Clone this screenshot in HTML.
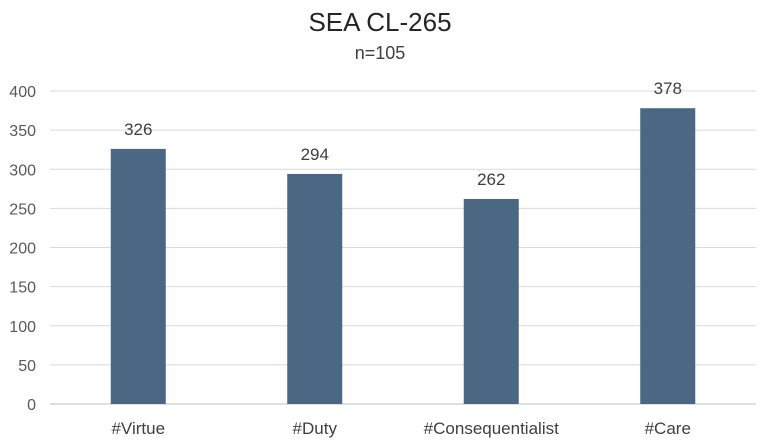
<!DOCTYPE html>
<html><head><meta charset="utf-8"><style>
body{margin:0;background:#fff;}
svg{display:block;font-family:"Liberation Sans",sans-serif;}
</style></head><body>
<svg id="chart" width="760" height="446">
<text x="380" y="31" text-anchor="middle" font-size="26" fill="#262626">SEA CL-265</text>
<text x="380" y="59" text-anchor="middle" font-size="18" fill="#404040">n=105</text>
<g id="grid"></g><g id="bars"></g><g id="labels"></g>
</svg>
<script>
const categories=["#Virtue","#Duty","#Consequentialist","#Care"];
const values=[326,294,262,378];
const ticks=[0,50,100,150,200,250,300,350,400];
const NS="http://www.w3.org/2000/svg";
const x0=50,x1=756,y0=404,y1=91,maxV=400;
const y=v=>y0-(v/maxV)*(y0-y1);
const band=(x1-x0)/categories.length;
const xc=i=>x0+band*(i+0.5);
function mk(t,a,p){const e=document.createElementNS(NS,t);for(const k in a)e.setAttribute(k,a[k]);p.appendChild(e);return e;}
const g=document.getElementById('grid'),b=document.getElementById('bars'),l=document.getElementById('labels');
ticks.forEach(t=>{
  const ln=mk('line',{x1:x0,x2:x1,y1:y(t),y2:y(t),stroke:t===0?'#bfbfbf':'#d9d9d9','stroke-width':1},g);
  
  
  const tx=mk('text',{x:36,y:y(t)+6,'text-anchor':'end','font-size':16,fill:'#595959'},g);
  tx.textContent=t;
  
  
});
categories.forEach((c,i)=>{
  const w=55;
  const r=mk('rect',{x:xc(i)-w/2,y:y(values[i]),width:w,height:y0-y(values[i]),fill:'#4a6784'},b);
  
  
  const v=mk('text',{x:xc(i),y:y(values[i])-14,'text-anchor':'middle','font-size':17,fill:'#404040'},l);
  v.textContent=values[i];
  
  
  const cl=mk('text',{x:xc(i),y:434,'text-anchor':'middle','font-size':17,fill:'#404040'},l);
  cl.textContent=c;
  
  
});
</script>
</body></html>
